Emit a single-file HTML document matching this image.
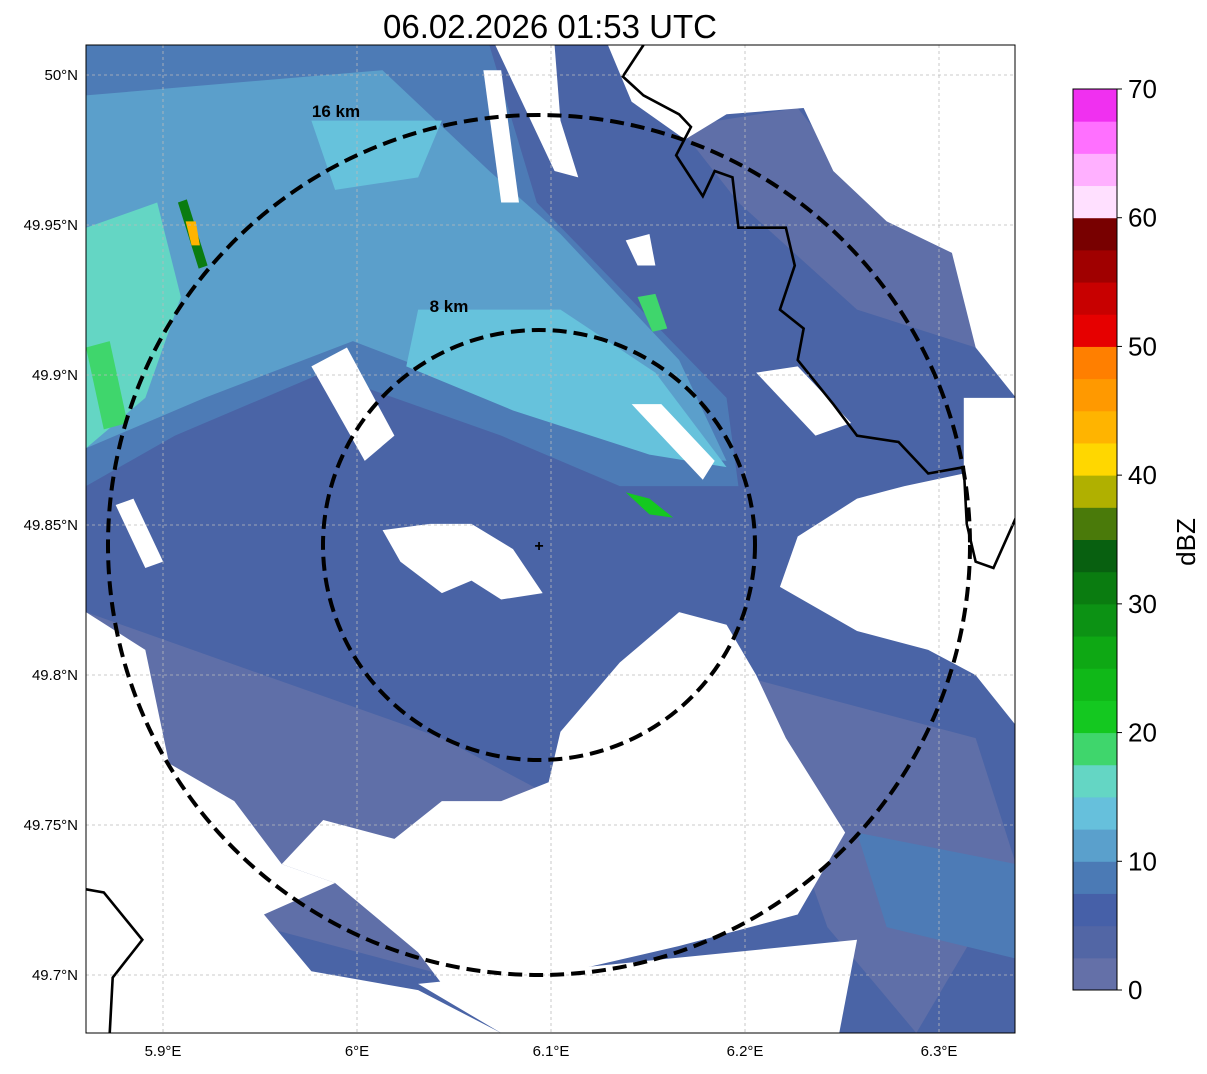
<!DOCTYPE html>
<html><head><meta charset="utf-8"><style>
body{margin:0;background:#fff;width:1207px;height:1069px;overflow:hidden;font-family:"Liberation Sans","DejaVu Sans",sans-serif}
</style></head><body>
<svg width="1207" height="1069" xmlns="http://www.w3.org/2000/svg">
<text x="550" y="38" font-size="33" text-anchor="middle">06.02.2026 01:53 UTC</text>
<defs><clipPath id="mc"><rect x="86" y="45" width="929" height="988"/></clipPath></defs>
<g clip-path="url(#mc)">
<g transform="translate(86,45) scale(0.5931,0.6301)">
<rect x="0" y="0" width="1568" height="1568" fill="#4a64a6"/>
<polygon fill="#5f6fa8" points="0,900 300,1000 600,1100 800,1200 700,1500 300,1400 0,1100"/>
<polygon fill="#5f6fa8" points="1100,1000 1500,1100 1568,1300 1400,1568 1250,1400"/>
<polygon fill="#5f6fa8" points="1000,130 1200,100 1350,280 1460,330 1500,480 1300,420 1100,250"/>
<polygon fill="#4d7bb6" points="0,0 680,0 760,250 1080,560 1100,700 900,700 700,620 400,520 150,620 0,700"/>
<polygon fill="#4d7bb6" points="1300,1250 1568,1300 1568,1450 1350,1400"/>
<polygon fill="#5b9fcb" points="0,80 500,40 680,200 800,300 1000,500 1080,660 980,650 700,560 450,470 200,560 0,640"/>
<polygon fill="#66c2dc" points="560,420 800,420 960,520 1080,670 950,650 720,580 540,510"/>
<polygon fill="#66c2dc" points="380,120 600,120 560,210 420,230"/>
<polygon fill="#64d6c4" points="0,290 120,250 160,400 100,560 0,640"/>
<polygon fill="#3fd66c" points="0,480 40,470 70,600 30,610"/>
<polygon fill="#3fd66c" points="930,400 960,395 980,450 955,455"/>
<polygon fill="#0a7c10" points="155,250 170,245 205,350 190,355"/>
<polygon fill="#ffb400" points="168,280 185,280 192,318 178,318"/>
<polygon fill="#14c820" points="910,710 950,720 990,750 950,745"/>
<polygon fill="#fff" points="690,0 790,0 800,120 830,210 790,200 740,100"/>
<polygon fill="#fff" points="880,0 1568,0 1568,560 1500,480 1460,330 1350,280 1260,200 1210,100 1080,110 1010,150 920,90"/>
<polygon fill="#fff" points="1568,560 1480,560 1480,680 1380,700 1300,720 1200,780 1170,860 1300,930 1420,960 1500,1000 1568,1080"/>
<polygon fill="#fff" points="1080,920 1000,900 900,980 800,1090 780,1170 700,1200 600,1200 520,1260 400,1230 330,1300 420,1330 560,1440 600,1490 780,1478 1000,1430 1200,1380 1280,1250 1180,1100 1130,1000"/>
<polygon fill="#fff" points="0,900 100,960 140,1140 250,1200 330,1300 420,1330 300,1380 380,1470 560,1500 700,1568 0,1568"/>
<polygon fill="#fff" points="560,1490 1300,1420 1270,1568 700,1568"/>
<polygon fill="#fff" points="500,770 580,760 650,760 720,800 770,870 700,880 650,850 600,870 530,820"/>
<polygon fill="#fff" points="380,510 440,480 520,620 470,660"/>
<polygon fill="#fff" points="920,570 970,570 1060,660 1040,690"/>
<polygon fill="#fff" points="50,730 80,720 130,820 100,830"/>
<polygon fill="#fff" points="1130,520 1200,510 1290,600 1230,620"/>
<polygon fill="#fff" points="910,310 950,300 960,350 930,350"/>
<polygon fill="#fff" points="670,40 700,40 730,250 700,250"/>
<polyline fill="none" stroke="#000" stroke-width="2.6" vector-effect="non-scaling-stroke" points="940,0 905,50 940,80 1000,110 1020,130 995,175 1040,240 1060,200 1090,210 1100,290 1180,290 1195,350 1170,420 1210,450 1200,500 1260,570 1300,620 1370,630 1420,680 1480,670 1485,760 1500,820 1530,830 1568,750"/>
<polyline fill="none" stroke="#000" stroke-width="2.6" vector-effect="non-scaling-stroke" points="0,1340 30,1345 95,1420 45,1480 40,1568"/>
</g>
<g stroke="#bbb" stroke-width="0.8" stroke-dasharray="3,3">
<line x1="163" y1="45" x2="163" y2="1033"/><line x1="357" y1="45" x2="357" y2="1033"/><line x1="551" y1="45" x2="551" y2="1033"/><line x1="745" y1="45" x2="745" y2="1033"/><line x1="939" y1="45" x2="939" y2="1033"/>
<line x1="86" y1="75" x2="1015" y2="75"/><line x1="86" y1="225" x2="1015" y2="225"/><line x1="86" y1="375" x2="1015" y2="375"/><line x1="86" y1="525" x2="1015" y2="525"/><line x1="86" y1="675" x2="1015" y2="675"/><line x1="86" y1="825" x2="1015" y2="825"/><line x1="86" y1="975" x2="1015" y2="975"/>
</g>
<ellipse cx="539" cy="545" rx="216" ry="215" fill="none" stroke="#000" stroke-width="4" stroke-dasharray="14,7"/>
<ellipse cx="539" cy="545" rx="431" ry="430" fill="none" stroke="#000" stroke-width="4" stroke-dasharray="14,7"/>
<text x="336" y="117" font-size="17" font-weight="bold" text-anchor="middle">16 km</text>
<text x="449" y="312" font-size="17" font-weight="bold" text-anchor="middle">8 km</text>
<text x="539" y="551" font-size="16" font-weight="bold" text-anchor="middle">+</text>
</g>
<rect x="86" y="45" width="929" height="988" fill="none" stroke="#000" stroke-width="1"/>
<g font-size="15">
<text x="78" y="80" text-anchor="end">50°N</text><text x="78" y="230" text-anchor="end">49.95°N</text><text x="78" y="380" text-anchor="end">49.9°N</text><text x="78" y="530" text-anchor="end">49.85°N</text><text x="78" y="680" text-anchor="end">49.8°N</text><text x="78" y="830" text-anchor="end">49.75°N</text><text x="78" y="980" text-anchor="end">49.7°N</text>
</g>
<g font-size="15" text-anchor="middle">
<text x="163" y="1056">5.9°E</text><text x="357" y="1056">6°E</text><text x="551" y="1056">6.1°E</text><text x="745" y="1056">6.2°E</text><text x="939" y="1056">6.3°E</text>
</g>
<g id="cb"></g>
<text x="1195" y="542" font-size="26" text-anchor="middle" transform="rotate(-90 1195 542)">dBZ</text>
</svg>
<script>
const cbColors=["#6470a8","#5266a5","#4660a8","#4b7ab5","#5aa0cc","#66c0dc","#64d6c4","#3fd66c","#14c820","#10b818","#0ea814","#0c9214","#0a7c10","#086010","#4a7a0a","#b0b000","#ffd700","#ffb400","#ff9900","#ff7f00","#e60000","#c80000","#a00000","#780000","#ffe0ff","#ffb0ff","#ff70ff","#f030f0"];
const cbTicks=[0,10,20,30,40,50,60,70];
const ns="http://www.w3.org/2000/svg",cb=document.getElementById('cb');
const y0=990,y1=89,scl=v=>y0-(v/70)*(y0-y1);
cbColors.forEach((c,i)=>{const r=document.createElementNS(ns,'rect');
r.setAttribute('x',1073);r.setAttribute('width',44);
r.setAttribute('y',scl((i+1)*2.5));r.setAttribute('height',scl(i*2.5)-scl((i+1)*2.5)+0.5);
r.setAttribute('fill',c);


cb.appendChild(r);});
const fr=document.createElementNS(ns,'rect');fr.setAttribute('x',1073);fr.setAttribute('y',89);fr.setAttribute('width',44);fr.setAttribute('height',901);fr.setAttribute('fill','none');fr.setAttribute('stroke','#000');


cb.appendChild(fr);
cbTicks.forEach(v=>{const t=document.createElementNS(ns,'text');t.setAttribute('x',1128);t.setAttribute('y',scl(v)+9);t.setAttribute('font-size','26');t.textContent=v;


cb.appendChild(t);
const l=document.createElementNS(ns,'line');l.setAttribute('x1',1117);l.setAttribute('x2',1122);l.setAttribute('y1',scl(v));l.setAttribute('y2',scl(v));l.setAttribute('stroke','#000');


cb.appendChild(l);});
</script>
</body></html>
